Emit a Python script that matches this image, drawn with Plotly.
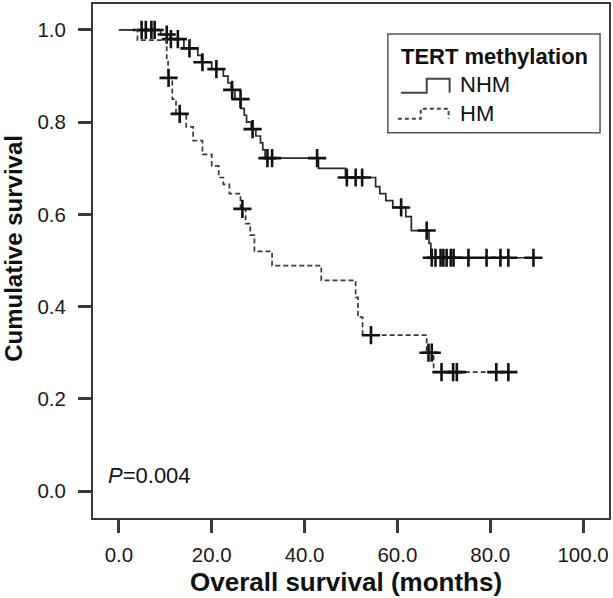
import plotly.graph_objects as go
import numpy as np

# ---- Data ----
nhm_time = [0, 9, 11, 14, 17, 17.8, 20, 22.5, 23.5, 24.2, 25, 26.3, 27, 27.5, 28.5, 29.5, 30.5, 31, 31.5,
            43, 48.8, 55.3, 56.2, 57.5, 59, 61.8, 63, 66.8, 67.2]
nhm_surv = [1.0, 0.99, 0.98, 0.96, 0.945, 0.93, 0.915, 0.90, 0.885, 0.87, 0.85, 0.83, 0.815, 0.80, 0.785,
            0.77, 0.755, 0.74, 0.722, 0.70, 0.68, 0.66, 0.645, 0.63, 0.615, 0.595, 0.565, 0.537, 0.506]
nhm_end = 90.3
nhm_censor = [4.9, 5.8, 7, 7.7, 10.3, 11.2, 12.7, 15.2, 18, 21, 24.4, 26.2, 28.8, 32, 33, 42.7, 49.1, 51,
              52.4, 60.8, 66.3, 67.4, 68.2, 69.3, 69.9, 70.6, 71.5, 72.1, 75.3, 79.2, 82.2, 83.9, 89.3]

hm_time = [0, 4, 10.3, 10.6, 11.5, 12.3, 14.5, 16, 18, 20, 21.5, 22.5, 23.8, 26.2, 27.3, 28.3, 29.2, 33,
           43.6, 51, 51.5, 52.5, 66.3, 67.8]
hm_surv = [1.0, 0.978, 0.935, 0.896, 0.85, 0.818, 0.79, 0.76, 0.73, 0.705, 0.68, 0.665, 0.645, 0.612, 0.58,
           0.555, 0.52, 0.489, 0.457, 0.42, 0.377, 0.338, 0.30, 0.258]
hm_end = 83.9
hm_censor = [10.7, 13.1, 26.6, 54.3, 66.7, 67.4, 69.5, 72.0, 72.8, 81.3, 83.9]

x_ticks = [0, 20, 40, 60, 80, 100]
x_labels = ["0.0", "20.0", "40.0", "60.0", "80.0", "100.0"]
y_ticks = [0, 0.2, 0.4, 0.6, 0.8, 1.0]
y_labels = ["0.0", "0.2", "0.4", "0.6", "0.8", "1.0"]

p_text = "<i>P</i>=0.004"


def step_at(times, surv, t):
    idx = np.searchsorted(np.array(times), t, side="right") - 1
    return surv[max(idx, 0)]


FONT = "Liberation Sans, Arial, sans-serif"
W, H = 613, 598
ML, MR, MT, MB = 93, 2, 3, 80
PW, PH = W - ML - MR, H - MT - MB

fig = go.Figure()

for times, surv, end, cens, dash, col in [
    (nhm_time, nhm_surv, nhm_end, nhm_censor, "solid", "#2b2b2b"),
    (hm_time, hm_surv, hm_end, hm_censor, "5px,3px", "#3a3a3a"),
]:
    xs = list(times) + [end]
    ys = list(surv) + [surv[-1]]
    fig.add_trace(go.Scatter(x=xs, y=ys, mode="lines", line=dict(shape="hv", color=col, width=1.7, dash=dash),
                             showlegend=False, hoverinfo="skip"))
    cy = [step_at(times, surv, t) for t in cens]
    fig.add_trace(go.Scatter(x=cens, y=cy, mode="markers",
                             marker=dict(symbol="cross-thin", size=13, line=dict(color="#111111", width=2.6)),
                             showlegend=False, hoverinfo="skip"))

x_per_px = 100 / (585 - 119)
x0 = -(119 - ML) * x_per_px
x1 = x0 + PW * x_per_px
y_per_px = 1.0 / (491 - 29)
y0 = -(MT + PH - 491) * y_per_px
y1 = 1 + (29 - MT) * y_per_px

axis_common = dict(showline=True, linecolor="#3a3a3a", linewidth=2, mirror=True, ticks="outside",
                   ticklen=13, tickwidth=2.5, tickcolor="#3a3a3a", showgrid=False, zeroline=False,
                   tickfont=dict(family=FONT, size=20.5, color="#1a1a1a"))

fig.update_xaxes(range=[x0, x1], tickvals=x_ticks, ticktext=x_labels, ticklabelstandoff=4, **axis_common)
fig.update_yaxes(range=[y0, y1], tickvals=y_ticks, ticktext=y_labels, ticklabelstandoff=8, **axis_common)


def px_to_paper(px, py):
    return (px - ML) / PW, (MT + PH - py) / PH


shapes = []
annotations = []
# Legend box
bx0, by0 = px_to_paper(389, 33)
bx1, by1 = px_to_paper(602, 132)
shapes.append(dict(type="rect", xref="paper", yref="paper", x0=bx0, y0=by1, x1=bx1, y1=by0,
                   line=dict(color="#555555", width=1.5), fillcolor="white"))


def path_from(points):
    pts = [px_to_paper(*p) for p in points]
    return "M " + " L ".join(f"{a:.5f},{b:.5f}" for a, b in pts)


shapes.append(dict(type="path", xref="paper", yref="paper",
                   path=path_from([(402, 92), (428, 92), (428, 78), (451, 78), (451, 92)]),
                   line=dict(color="#444444", width=2)))
shapes.append(dict(type="path", xref="paper", yref="paper",
                   path=path_from([(399, 118), (422, 118), (422, 108), (450, 108), (450, 118)]),
                   line=dict(color="#444444", width=2, dash="4px,3px")))

tx, ty = px_to_paper(496, 56)
annotations.append(dict(xref="paper", yref="paper", x=tx, y=ty, text="<b>TERT methylation</b>",
                        showarrow=False, xanchor="center", yanchor="middle",
                        font=dict(family=FONT, size=22, color="#111111")))
for label, py in [("NHM", 84), ("HM", 113)]:
    lx, ly = px_to_paper(459, py)
    annotations.append(dict(xref="paper", yref="paper", x=lx, y=ly, text=label, showarrow=False,
                            xanchor="left", yanchor="middle", font=dict(family=FONT, size=22, color="#111111")))

px_, py_ = px_to_paper(106, 475)
annotations.append(dict(xref="paper", yref="paper", x=px_, y=py_, text=p_text, showarrow=False,
                        xanchor="left", yanchor="middle", font=dict(family=FONT, size=22, color="#111111")))

# Axis titles
ax_, ay_ = px_to_paper(347, 582)
annotations.append(dict(xref="paper", yref="paper", x=ax_, y=ay_, text="<b>Overall survival (months)</b>",
                        showarrow=False, xanchor="center", yanchor="middle",
                        font=dict(family=FONT, size=26, color="#111111")))
yx_, yy_ = px_to_paper(13, 248)
annotations.append(dict(xref="paper", yref="paper", x=yx_, y=yy_, text="<b>Cumulative survival</b>",
                        showarrow=False, xanchor="center", yanchor="middle", textangle=-90,
                        font=dict(family=FONT, size=24, color="#111111")))

fig.update_layout(width=W, height=H, margin=dict(l=ML, r=MR, t=MT, b=MB), plot_bgcolor="white",
                  paper_bgcolor="white", shapes=shapes, annotations=annotations, showlegend=False)

fig.write_html("out.html", config={"displayModeBar": False},
               post_script="document.body.style.margin='0';document.body.style.overflow='hidden';")
